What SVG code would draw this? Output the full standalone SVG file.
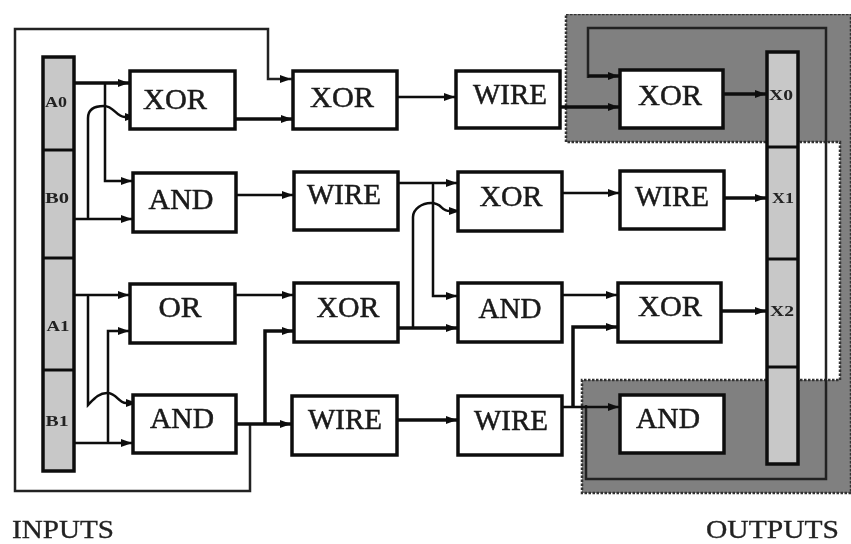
<svg xmlns="http://www.w3.org/2000/svg" width="851" height="544" viewBox="0 0 851 544">
<style>
.b{fill:#fff;stroke:#111;stroke-width:3.5}
.bar{fill:#c8c8c8;stroke:#111;stroke-width:3.5}
.d{stroke:#111;stroke-width:3;fill:none}
.t{font-family:"Liberation Serif","Times New Roman",serif;font-size:29px;fill:#1a1a1a;text-anchor:middle;stroke:#1a1a1a;stroke-width:.5}
.s{font-family:"Liberation Serif","Times New Roman",serif;font-size:15px;font-weight:bold;fill:#222;text-anchor:middle}
.c{fill:none;stroke:#111;stroke-width:2.5}
.c3{fill:none;stroke:#111;stroke-width:3.5}
.c1{fill:none;stroke:#222;stroke-width:2.5}
.a{fill:#111}
.l{font-family:"Liberation Serif","Times New Roman",serif;font-size:25px;fill:#222;stroke:#222;stroke-width:.3}
</style>
<defs>
<filter id="soft" x="0" y="0" width="100%" height="100%"><feGaussianBlur stdDeviation="0.55"/></filter>
<path id="h" d="M-12,-4 L-1,0 L-12,4 Z"/>
</defs>
<rect width="851" height="544" fill="#fff"/>
<g filter="url(#soft)">
<path id="regions" d="M566,14 H851 V493 H582 V380 H840 V142 H566 Z" fill="#808080" stroke="#333" stroke-width="2.5" stroke-dasharray="2.5 1.5"/>
<g id="connectors">
<path class="c1" d="M292,79 H268 V29 H15 V491 H250 V424"/>
<path class="c1" d="M588,78 V28 H826 V479 H586 V405"/>
<path class="c3" d="M588,76 H620"/>
<path class="c3" d="M74,83 H130"/>
<path class="c" d="M105,83 V181 H133"/>
<path class="c" d="M74,219 H133"/>
<path class="c" d="M88,219 V118 C88,108 97,106 104,106 C114,106 116,117 125,117 H142"/>
<path class="c3" d="M235,119 H293"/>
<path class="c" d="M236,195 H294"/>
<path class="c" d="M74,295 H130"/>
<path class="c" d="M88,295 V405 C94,399 99,393 107,393 C117,393 118,403 126,403 H142"/>
<path class="c" d="M74,443 H133"/>
<path class="c" d="M108,443 V331 H130"/>
<path class="c" d="M235,295 H294"/>
<path class="c3" d="M236,424 H292"/>
<path class="c3" d="M265,424 V331 H294"/>
<path class="c" d="M397,97 H456"/>
<path class="c3" d="M560,107 H620"/>
<path class="c3" d="M723,94 H767"/>
<path class="c" d="M398,183 H458"/>
<path class="c" d="M433,183 V296 H458"/>
<path class="c3" d="M398,328 H458"/>
<path class="c" d="M413,328 V217 C413,209 422,203 431,203 C443,203 440,211 450,211 H464"/>
<path class="c" d="M562,193 H620"/>
<path class="c3" d="M724,198 H767"/>
<path class="c" d="M562,295 H618"/>
<path class="c3" d="M721,311 H767"/>
<path class="c3" d="M397,420 H458"/>
<path class="c" d="M560,407 H620"/>
<path class="c3" d="M573,407 V327 H618"/>
</g>
<g id="arrows" class="a">
<use href="#h" x="130" y="83"/><use href="#h" x="137" y="117"/><use href="#h" x="133" y="181"/><use href="#h" x="133" y="219"/>
<use href="#h" x="130" y="295"/><use href="#h" x="130" y="331"/><use href="#h" x="138" y="403"/><use href="#h" x="133" y="443"/>
<use href="#h" x="292" y="79"/><use href="#h" x="293" y="119"/><use href="#h" x="294" y="195"/><use href="#h" x="294" y="295"/><use href="#h" x="294" y="331"/><use href="#h" x="292" y="424"/>
<use href="#h" x="456" y="97"/><use href="#h" x="458" y="183"/><use href="#h" x="461" y="211"/><use href="#h" x="458" y="296"/><use href="#h" x="458" y="328"/><use href="#h" x="458" y="420"/>
<use href="#h" x="620" y="76"/><use href="#h" x="620" y="107"/><use href="#h" x="620" y="193"/><use href="#h" x="618" y="295"/><use href="#h" x="618" y="327"/><use href="#h" x="620" y="407"/>
<use href="#h" x="767" y="94"/><use href="#h" x="767" y="198"/><use href="#h" x="767" y="311"/>
</g>
<g id="inputs">
<rect class="bar" x="43" y="57" width="31" height="414"/>
<path class="d" d="M43,150 H74 M43,258 H74 M43,370 H74"/>
<text class="s" x="56" y="107" textLength="22" lengthAdjust="spacingAndGlyphs">A0</text><text class="s" x="57" y="203" textLength="24" lengthAdjust="spacingAndGlyphs">B0</text><text class="s" x="58" y="331" textLength="23" lengthAdjust="spacingAndGlyphs">A1</text><text class="s" x="57" y="426" textLength="23" lengthAdjust="spacingAndGlyphs">B1</text>
</g>
<g id="outputs">
<rect class="bar" x="767" y="52" width="31" height="412"/>
<path class="d" d="M767,147 H798 M767,259 H798 M767,367 H798"/>
<text class="s" x="781" y="100" textLength="24" lengthAdjust="spacingAndGlyphs">X0</text><text class="s" x="783" y="203" textLength="22" lengthAdjust="spacingAndGlyphs">X1</text><text class="s" x="782" y="316" textLength="24" lengthAdjust="spacingAndGlyphs">X2</text>
</g>
<g id="n1"><rect class="b" x="130" y="71" width="105" height="58"/><text class="t" x="175" y="109" textLength="64" lengthAdjust="spacingAndGlyphs">XOR</text></g>
<g id="n2"><rect class="b" x="133" y="173" width="103" height="59"/><text class="t" x="181" y="209" textLength="65" lengthAdjust="spacingAndGlyphs">AND</text></g>
<g id="n3"><rect class="b" x="130" y="284" width="105" height="59"/><text class="t" x="180" y="317" textLength="43" lengthAdjust="spacingAndGlyphs">OR</text></g>
<g id="n4"><rect class="b" x="133" y="395" width="103" height="58"/><text class="t" x="182" y="428" textLength="64" lengthAdjust="spacingAndGlyphs">AND</text></g>
<g id="n5"><rect class="b" x="293" y="71" width="104" height="58"/><text class="t" x="342" y="107" textLength="64" lengthAdjust="spacingAndGlyphs">XOR</text></g>
<g id="n6"><rect class="b" x="294" y="172" width="104" height="58"/><text class="t" x="344" y="204" textLength="74" lengthAdjust="spacingAndGlyphs">WIRE</text></g>
<g id="n7"><rect class="b" x="294" y="283" width="104" height="59"/><text class="t" x="348" y="317" textLength="63" lengthAdjust="spacingAndGlyphs">XOR</text></g>
<g id="n8"><rect class="b" x="292" y="396" width="105" height="59"/><text class="t" x="345" y="429" textLength="74" lengthAdjust="spacingAndGlyphs">WIRE</text></g>
<g id="n9"><rect class="b" x="456" y="71" width="104" height="57"/><text class="t" x="510" y="104" textLength="74" lengthAdjust="spacingAndGlyphs">WIRE</text></g>
<g id="n10"><rect class="b" x="458" y="172" width="104" height="59"/><text class="t" x="511" y="206" textLength="63" lengthAdjust="spacingAndGlyphs">XOR</text></g>
<g id="n11"><rect class="b" x="458" y="283" width="104" height="59"/><text class="t" x="510" y="318" textLength="63" lengthAdjust="spacingAndGlyphs">AND</text></g>
<g id="n12"><rect class="b" x="458" y="396" width="104" height="59"/><text class="t" x="511" y="430" textLength="74" lengthAdjust="spacingAndGlyphs">WIRE</text></g>
<g id="n13"><rect class="b" x="620" y="70" width="103" height="58"/><text class="t" x="670" y="105" textLength="64" lengthAdjust="spacingAndGlyphs">XOR</text></g>
<g id="n14"><rect class="b" x="620" y="171" width="104" height="58"/><text class="t" x="672" y="206" textLength="74" lengthAdjust="spacingAndGlyphs">WIRE</text></g>
<g id="n15"><rect class="b" x="618" y="283" width="103" height="59"/><text class="t" x="670" y="316" textLength="64" lengthAdjust="spacingAndGlyphs">XOR</text></g>
<g id="n16"><rect class="b" x="620" y="395" width="104" height="58"/><text class="t" x="668" y="428" textLength="64" lengthAdjust="spacingAndGlyphs">AND</text></g>
<text class="l" x="12" y="538" textLength="102" lengthAdjust="spacingAndGlyphs">INPUTS</text>
<text class="l" x="706" y="538" textLength="133" lengthAdjust="spacingAndGlyphs">OUTPUTS</text>
</g>
</svg>
